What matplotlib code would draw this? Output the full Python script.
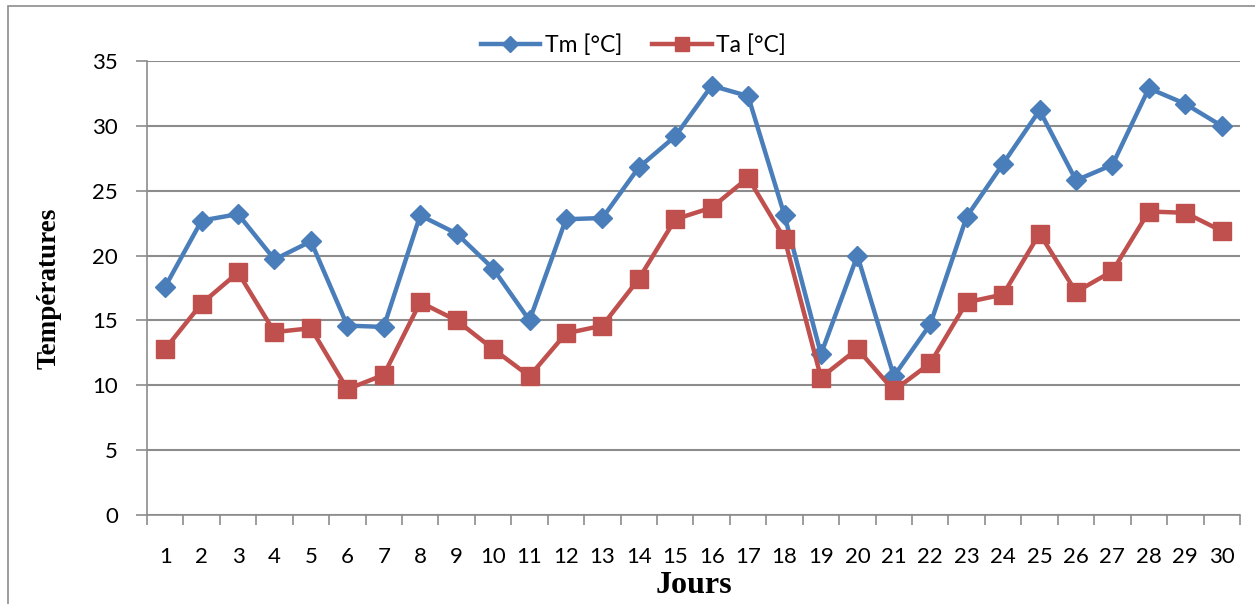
import matplotlib.pyplot as plt
from matplotlib.patches import Rectangle

# Températures journalières (30 jours)
jours = list(range(1, 31))
tm = [17.6, 22.7, 23.2, 19.7, 21.1, 14.6, 14.5, 23.1, 21.7, 19.0,
      15.0, 22.8, 22.9, 26.8, 29.2, 33.1, 32.3, 23.1, 12.4, 20.0,
      10.7, 14.7, 23.0, 27.1, 31.2, 25.8, 27.0, 32.9, 31.7, 30.0]
ta = [12.8, 16.3, 18.7, 14.1, 14.4, 9.7, 10.8, 16.4, 15.0, 12.8,
      10.7, 14.0, 14.6, 18.2, 22.8, 23.7, 26.0, 21.3, 10.6, 12.8,
      9.6, 11.7, 16.4, 17.0, 21.7, 17.2, 18.8, 23.4, 23.3, 21.9]

bleu = '#4a7ebb'
rouge = '#c0504d'
gris = '#8c8c8c'

plt.rcParams['font.family'] = ['Lato', 'DejaVu Sans']

fig = plt.figure(figsize=(12.55, 6.04), dpi=100)
ax = fig.add_axes([0.1171, 0.1474, 0.8709, 0.7515])

# cadre du graphique
fig.patches.append(Rectangle((8 / 1255, -0.1), 1.2, 1.1 - 6 / 604,
                             transform=fig.transFigure, fill=False,
                             edgecolor=gris, linewidth=1.2))

ax.plot(jours, tm, color=bleu, linewidth=3.2, marker='D', markersize=10,
        label='Tm [°C]', zorder=3)
ax.plot(jours, ta, color=rouge, linewidth=3.2, marker='s', markersize=13,
        label='Ta [°C]', zorder=3)

ax.set_xlim(0.5, 30.5)
ax.set_ylim(0, 35)
ax.set_yticks(range(0, 36, 5))
ax.set_xticks(jours)
ax.set_xticks([j + 0.5 for j in range(0, 31)], minor=True)
ax.tick_params(axis='x', which='major', length=0, pad=23, labelsize=16)
ax.tick_params(axis='x', which='minor', length=7, width=1.2, color=gris,
               direction='out')
ax.tick_params(axis='y', length=8, width=1.2, color=gris, labelsize=16, pad=13)

ax.grid(axis='y', color=gris, linewidth=1.5)
ax.set_axisbelow(True)
for s in ['top', 'right']:
    ax.spines[s].set_visible(False)
ax.spines['left'].set_color(gris)
ax.spines['bottom'].set_color(gris)
ax.spines['left'].set_linewidth(1.2)
ax.spines['bottom'].set_linewidth(1.2)

ax.set_xlabel('Jours', family='Liberation Serif', fontweight='bold',
              fontsize=23, labelpad=3)
ax.set_ylabel('Températures', family='Liberation Serif', fontweight='bold',
              fontsize=19.5, labelpad=22)

ax.legend(loc='center', bbox_to_anchor=(0.445, 1.035), ncol=2, frameon=False,
          fontsize=16.5, handlelength=2.6, columnspacing=1.3, handletextpad=0.2,
          markerscale=0.8)

plt.savefig('out.png', dpi=100)
